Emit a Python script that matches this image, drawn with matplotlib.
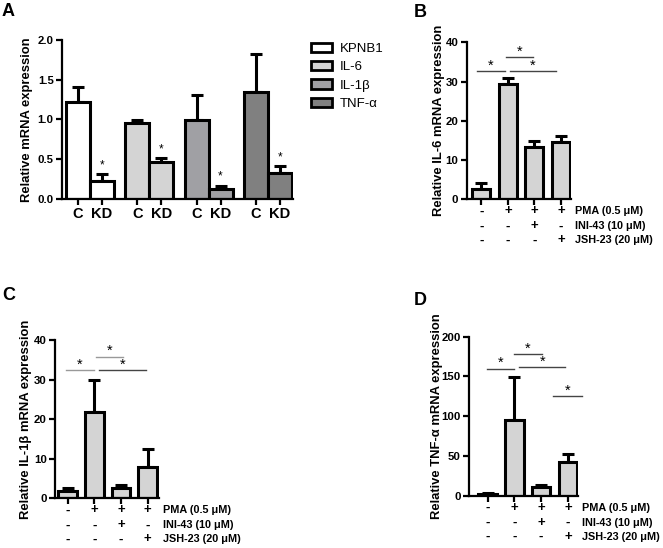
import numpy as np
from matplotlib import pyplot as plt
from matplotlib.patches import Patch

plt.rcParams['font.family'] = ['Liberation Sans', 'DejaVu Sans']

# panel A: knockdown
genes = ['KPNB1', 'IL-6', 'IL-1β', 'TNF-α']
ctrl = [1.22, 0.96, 0.99, 1.34]
ctrl_err = [0.19, 0.03, 0.32, 0.49]
kd = [0.23, 0.46, 0.13, 0.33]
kd_err = [0.08, 0.05, 0.03, 0.08]

# panels B-D: treatments
pma = ['-', '+', '+', '+']
ini = ['-', '-', '+', '-']
jsh = ['-', '-', '-', '+']
row_names = ['PMA (0.5 μM)', 'INI-43 (10 μM)', 'JSH-23 (20 μM)']

il6 = [2.7, 29.4, 13.2, 14.7]
il6_err = [1.4, 1.5, 1.7, 1.4]
il6_sig = [(-0.18, 0.89, 32.7), (0.93, 1.96, 36.2), (1.08, 2.81, 32.7)]

il1b = [1.9, 21.7, 2.7, 8.0]
il1b_err = [0.7, 8.2, 0.7, 4.4]
il1b_sig = [(-0.07, 0.99, 32.4), (1.05, 2.07, 35.8), (1.17, 2.95, 32.4)]

tnf = [2.5, 95, 11, 43]
tnf_err = [0.5, 54, 2.8, 10]
tnf_sig = [(-0.03, 1.0, 160), (1.0, 2.03, 178), (1.19, 2.9, 161.5), (2.46, 3.54, 125)]

W, H = 663, 548
fig = plt.figure(figsize=(W / 100, H / 100), dpi=100)


def ax_px(l, t, r, b):
    return fig.add_axes([l / W, 1 - b / H, (r - l) / W, (b - t) / H])


def style(ax):
    for s in ['top', 'right']:
        ax.spines[s].set_visible(False)
    for s in ['left', 'bottom']:
        ax.spines[s].set_linewidth(1.6)
    ax.tick_params(width=1.6, length=4, labelsize=8.2, pad=2)
    for t in ax.get_yticklabels() + ax.get_xticklabels():
        t.set_fontweight('bold')


lw = 2.2
ekw = dict(elinewidth=lw, capthick=lw, capsize=4.5, ecolor='black', fmt='none', zorder=1)

# ---- A
axA = ax_px(62, 40, 293, 199)
colors = ['white', '#d4d4d4', '#a0a0a4', '#808080']
gap = 2.47
xs, labs = [], []
for g in range(len(genes)):
    xc, xk = g * gap - 0.5, g * gap + 0.5
    axA.bar([xc, xk], [ctrl[g], kd[g]], width=1, color=colors[g], edgecolor='black',
            linewidth=lw, zorder=2)
    axA.errorbar([xc, xk], [ctrl[g], kd[g]],
                 yerr=[[0, 0], [ctrl_err[g], kd_err[g]]], **ekw)
    axA.text(xk, kd[g] + kd_err[g] + 0.08, '*', ha='center', va='baseline', fontsize=8.5)
    xs += [xc, xk]
    labs += ['C', 'KD']
axA.set_xlim(-1.17, 8.46)
axA.set_ylim(0, 2.0)
axA.set_yticks(np.arange(0, 2.01, 0.5))
axA.set_yticklabels(['%.1f' % v for v in np.arange(0, 2.01, 0.5)])
axA.set_xticks(xs)
axA.set_xticklabels(labs)
style(axA)
axA.tick_params(axis='x', labelsize=10.5)
axA.set_ylabel('Relative mRNA expression', fontsize=9.4, fontweight='bold')
axA.yaxis.set_label_coords(-29 / 231, 0.5)

handles = [Patch(facecolor=c, edgecolor='black', linewidth=2) for c in colors]
fig.legend(handles, genes, loc='upper left', bbox_to_anchor=(311 / W, 1 - 43 / H),
           frameon=False, fontsize=9.5, handlelength=1.6, handleheight=0.7,
           handletextpad=0.6, labelspacing=0.45, borderpad=0, borderaxespad=0)


def treat_panel(box, xlim, vals, errs, sigs, ymax, step, ylabel, lab_off, width,
                line_colors):
    ax = ax_px(*box)
    x = np.arange(len(vals))
    ax.bar(x, vals, width=width, color='#d4d4d4', edgecolor='black', linewidth=lw, zorder=2)
    ax.errorbar(x, vals, yerr=[np.zeros(len(vals)), errs], **ekw)
    for (x0, x1, y), c in zip(sigs, line_colors):
        ax.plot([x0, x1], [y, y], color=c, lw=1, clip_on=False)
        ax.annotate('*', xy=((x0 + x1) / 2, y), xytext=(0, 1.2), textcoords='offset points',
                    ha='center', va='baseline', fontsize=10.5, annotation_clip=False)
    ax.set_xlim(*xlim)
    ax.set_ylim(0, ymax)
    ax.set_yticks(np.arange(0, ymax + 1, step))
    ax.set_xticks(x)
    ax.set_xticklabels([])
    style(ax)
    ax.set_ylabel(ylabel, fontsize=9.4, fontweight='bold')
    ax.yaxis.set_label_coords(-lab_off / (box[2] - box[0]), 0.5)
    for row, (signs, name, off) in enumerate(zip([pma, ini, jsh], row_names, [12, 27, 41])):
        for i, s in enumerate(signs):
            ax.annotate(s, xy=(i, 0), xycoords=('data', 'axes fraction'),
                        xytext=(0, -off * 0.72), textcoords='offset points',
                        ha='center', va='center', fontsize=9.5, fontweight='bold')
        ax.annotate(name, xy=(1, 0), xycoords='axes fraction',
                    xytext=(3, -off * 0.72), textcoords='offset points',
                    ha='left', va='center', fontsize=7.8, fontweight='bold')
    return ax


treat_panel((466.7, 42.3, 571, 199.3), (-0.555, 3.38), il6, il6_err, il6_sig, 40, 10,
            'Relative IL-6 mRNA expression', 22, 0.68, ['#444444'] * 3)
treat_panel((55, 340, 159, 498.3), (-0.48, 3.43), il1b, il1b_err, il1b_sig, 40, 10,
            'Relative IL-1β mRNA expression', 23, 0.71, ['#999999', '#999999', '#444444'])
treat_panel((469.3, 336.7, 578, 495.7), (-0.68, 3.38), tnf, tnf_err, tnf_sig, 200, 50,
            'Relative TNF-α mRNA expression', 26, 0.69, ['#444444'] * 4)

for lab, x, y in [('A', 2, 16), ('B', 414, 17), ('C', 2, 300), ('D', 414, 305)]:
    fig.text(x / W, 1 - y / H, lab, fontsize=13, fontweight='bold', va='baseline')

fig.savefig('out.png', dpi=100)
